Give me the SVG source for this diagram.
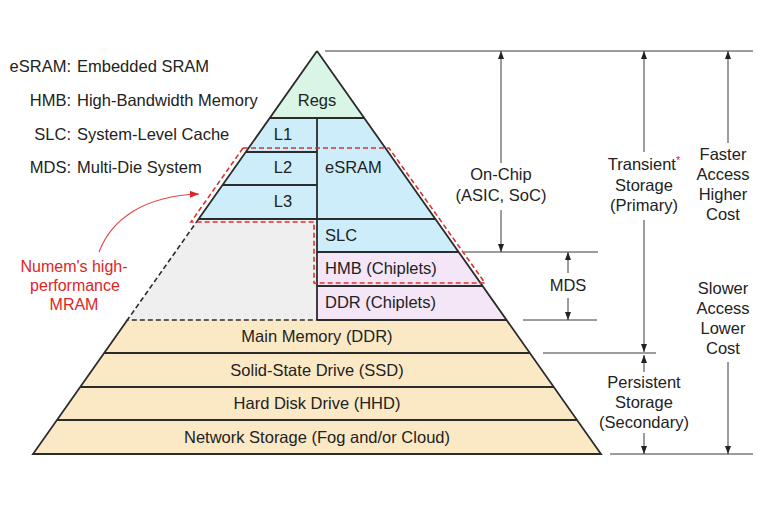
<svg xmlns="http://www.w3.org/2000/svg" width="760" height="507" viewBox="0 0 760 507">
<style>
text{font-family:"Liberation Sans",Arial,sans-serif;font-size:16.5px;fill:#222}
.m{text-anchor:middle}
.e{text-anchor:end}
.red{fill:#e02424}
.ln{stroke:#2b2b2b;stroke-width:1.8;fill:none}
.dsh{stroke:#2b2b2b;stroke-width:1.6;fill:none;stroke-dasharray:5 3}
.ann{stroke:#3a3a3a;stroke-width:1;fill:none}
.arr{stroke:#3a3a3a;stroke-width:1;fill:none;marker-start:url(#ah);marker-end:none}
.arrE{stroke:#3a3a3a;stroke-width:1;fill:none;marker-end:url(#ah)}
</style>
<defs>
<marker id="ah" markerUnits="userSpaceOnUse" markerWidth="8" markerHeight="7" refX="8" refY="3" orient="auto-start-reverse">
<path d="M0,0 L8,3 L0,6 z" fill="#222"/>
</marker>
<marker id="rah" markerUnits="userSpaceOnUse" markerWidth="9" markerHeight="8" refX="9" refY="3.5" orient="auto">
<path d="M0,0 L9,3.5 L0,7 z" fill="#e02424"/>
</marker>
</defs>
<rect width="760" height="507" fill="#ffffff"/>

<g id="legend">
<text class="e" x="71" y="72">eSRAM:</text><text x="77" y="72">Embedded SRAM</text>
<text class="e" x="71" y="106">HMB:</text><text x="77" y="106">High-Bandwidth Memory</text>
<text class="e" x="71" y="139.5">SLC:</text><text x="77" y="139.5">System-Level Cache</text>
<text class="e" x="71" y="173">MDS:</text><text x="77" y="173">Multi-Die System</text>
</g>

<g id="regs">
<polygon points="317,51 364.2,118 269.8,118" fill="#d9f5e5"/>
<text class="m" x="317" y="106">Regs</text>
</g>
<g id="cache-l123">
<polygon points="269.8,118 317,118 317,219 198.6,219" fill="#cdedfa"/>
<text class="m" x="283" y="139.5">L1</text>
<text class="m" x="283" y="173">L2</text>
<text class="m" x="283" y="206.5">L3</text>
</g>
<g id="esram-slc">
<polygon points="317,118 364.2,118 458.6,252 317,252" fill="#cdedfa"/>
<text x="325" y="173">eSRAM</text>
<text x="325" y="240.7">SLC</text>
</g>
<g id="chiplets">
<polygon points="317,252 458.6,252 506.6,320 317,320" fill="#f4e5f7"/>
<text x="325" y="274">HMB (Chiplets)</text>
<text x="325" y="307.5">DDR (Chiplets)</text>
</g>
<g id="mram-area">
<polygon points="198.6,219 317,219 317,320 127.4,320" fill="#efefef"/>
</g>
<g id="storage">
<polygon points="127.4,320 506.6,320 601,454 33,454" fill="#fbe9c6"/>
<text class="m" x="317" y="342">Main Memory (DDR)</text>
<text class="m" x="317" y="375.5">Solid-State Drive (SSD)</text>
<text class="m" x="317" y="409">Hard Disk Drive (HHD)</text>
<text class="m" x="317" y="442.5">Network Storage (Fog and/or Cloud)</text>
</g>

<g id="pyramid-lines">
<path class="ln" d="M317,51 L198.6,219 M127.4,320 L33,454 L601,454 L317,51"/>
<path class="dsh" d="M198.6,219 L127.4,320 L317,320"/>
<path class="ln" d="M269.8,118 H364.2 M245.8,152 H317 M222.6,185 H317 M198.6,219 H435.4 M317,252 H458.6 M317,286 H482.6 M317,320 H506.6 M104.2,353 H529.8 M80.2,387 H553.8 M57,420 H577 M317,118 V320"/>
</g>

<g id="mram-outline">
<polygon points="243,148 389,148 485,283 314,283 314,222 191,222" fill="none" stroke="#e03030" stroke-width="1.6" stroke-dasharray="5 3"/>
</g>

<g id="mram-label">
<text class="m red" x="74" y="271.5" style="font-size:16px">Numem's high-</text>
<text class="m red" x="75" y="290.5" style="font-size:16px">performance</text>
<text class="m red" x="74" y="310" style="font-size:16px">MRAM</text>
</g>

<g id="connectors">
<path class="ann" d="M325,51 H753 M464,252 H598 M523,320 H597 M543,353 H656 M610,454 H753"/>
<path d="M99,252 C112,218 145,196 199,194" fill="none" stroke="#e04a4a" stroke-width="1.2" marker-end="url(#rah)"/>
<path class="arr" d="M501,51 V163"/>
<path class="arrE" d="M501,210 V252"/>
<path class="arr" d="M568,252 V273"/>
<path class="arrE" d="M568,298 V320"/>
<path class="arr" d="M644,51 V152"/>
<path class="arrE" d="M644,220 V352"/>
<path class="arr" d="M644,355 V372"/>
<path class="arrE" d="M644,433 V454"/>
<path class="arr" d="M728,51 V143"/>
<path class="arrE" d="M728,362 V454"/>
</g>

<g id="on-chip">
<text class="m" x="501" y="180">On-Chip</text>
<text class="m" x="501" y="200.5">(ASIC, SoC)</text>
</g>
<g id="mds">
<text class="m" x="568" y="290.5">MDS</text>
</g>
<g id="transient">
<text class="m" x="644" y="170">Transient<tspan class="red" dy="-6" style="font-size:11px">*</tspan></text>
<text class="m" x="644" y="190.5">Storage</text>
<text class="m" x="644" y="210.5">(Primary)</text>
</g>
<g id="persistent">
<text class="m" x="644" y="387.5">Persistent</text>
<text class="m" x="644" y="407.5">Storage</text>
<text class="m" x="644" y="427.5">(Secondary)</text>
</g>
<g id="faster">
<text class="m" x="723" y="159.5">Faster</text>
<text class="m" x="723" y="180">Access</text>
<text class="m" x="723" y="200">Higher</text>
<text class="m" x="723" y="220">Cost</text>
</g>
<g id="slower">
<text class="m" x="723" y="294">Slower</text>
<text class="m" x="723" y="314">Access</text>
<text class="m" x="723" y="334">Lower</text>
<text class="m" x="723" y="354">Cost</text>
</g>
</svg>
